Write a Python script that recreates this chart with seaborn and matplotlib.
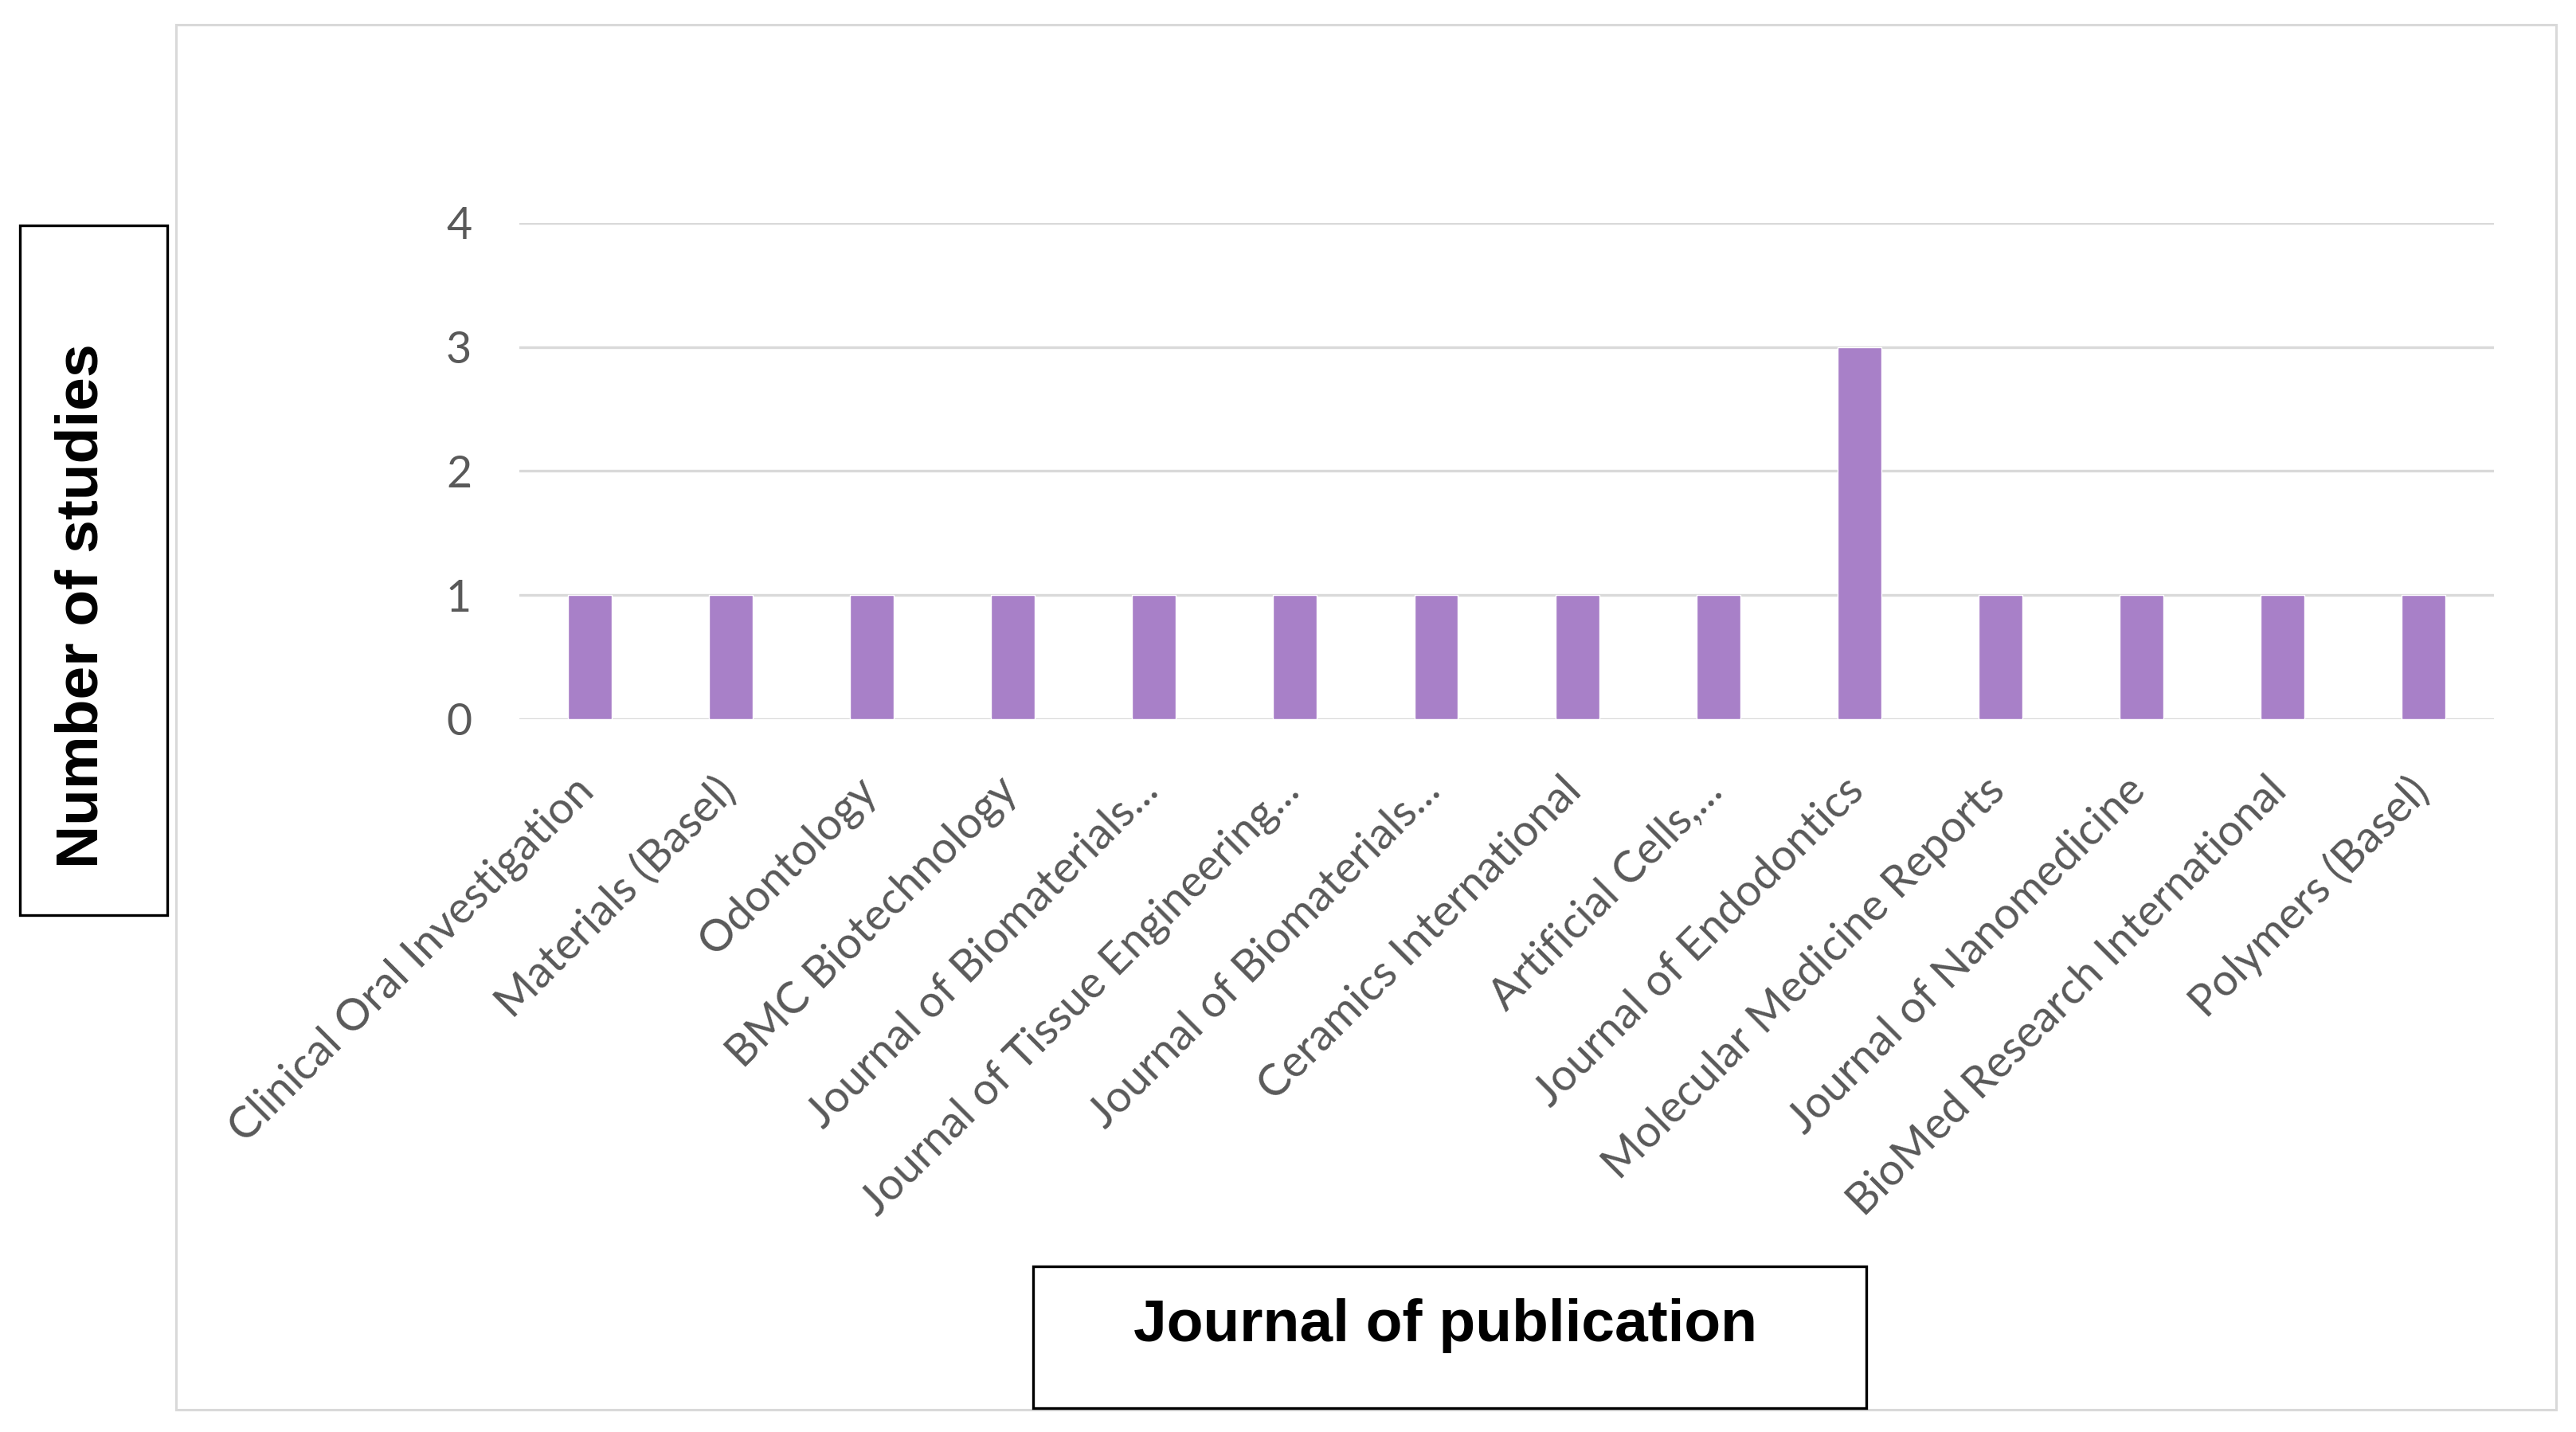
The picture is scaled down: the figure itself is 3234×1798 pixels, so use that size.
import seaborn as sns
import matplotlib.pyplot as plt
from matplotlib.patches import Rectangle
from matplotlib.transforms import ScaledTranslation
import pandas as pd

journals = ["Clinical Oral Investigation", "Materials (Basel)", "Odontology",
            "BMC Biotechnology", "Journal of Biomaterials...",
            "Journal of Tissue Engineering...", "Journal of Biomaterials...",
            "Ceramics International", "Artificial Cells,...",
            "Journal of Endodontics", "Molecular Medicine Reports",
            "Journal of Nanomedicine", "BioMed Research International",
            "Polymers (Basel)"]
studies = [1, 1, 1, 1, 1, 1, 1, 1, 1, 3, 1, 1, 1, 1]
yticks = [0, 1, 2, 3, 4]

# journal names repeat, so bars go on position index and names become tick labels
df = pd.DataFrame({"pos": range(len(journals)), "studies": studies})

sns.set_theme(style="white")
plt.rcParams['font.family'] = ['Lato', 'DejaVu Sans']

fig = plt.figure(figsize=(32.34, 17.98), dpi=100)
ax = fig.add_axes([0.2016, 0.4978, 0.7666, 0.3465])

sns.barplot(data=df, x="pos", y="studies", color="#A880C8", width=0.31,
            saturation=1, ax=ax, zorder=3)

ax.set_xlim(-0.5, len(journals) - 0.5)
ax.set_ylim(0, 4)
ax.set_yticks(yticks)
ax.grid(axis="y", color="#D9D9D9", linewidth=2.4, zorder=0)
ax.set_axisbelow(True)
for s in ax.spines.values():
    s.set_visible(False)
ax.tick_params(axis="both", length=0, labelsize=40, labelcolor="#595959")
ax.tick_params(axis="y", pad=43)
ax.tick_params(axis="x", pad=46)
ax.set_xticks(range(len(journals)))
ax.set_xticklabels(journals, rotation=45, ha="right", rotation_mode="anchor")
shift = ScaledTranslation(-15 / 72, 0, fig.dpi_scale_trans)
for lab in ax.get_xticklabels():
    lab.set_transform(lab.get_transform() + shift)
ax.set_xlabel("")
ax.set_ylabel("")

# chart area border
fig.patches.append(Rectangle((0.0683, 0.0156), 0.924, 0.9672, transform=fig.transFigure,
                             fill=False, edgecolor="#D9D9D9", linewidth=2.2, zorder=0))

# axis title boxes
fig.patches.append(Rectangle((0.0077, 0.361), 0.0572, 0.4816, transform=fig.transFigure,
                             fill=False, edgecolor="black", linewidth=2.4))
fig.text(0.0318, 0.5768, "Number of studies", rotation=90, ha="center", va="center",
         fontsize=54, fontweight="bold", color="black",
         family=["Liberation Sans", "DejaVu Sans"])

fig.patches.append(Rectangle((0.401, 0.0167), 0.3235, 0.099, transform=fig.transFigure,
                             fill=False, edgecolor="black", linewidth=2.4))
fig.text(0.5612, 0.0745, "Journal of publication", ha="center", va="center",
         fontsize=54, fontweight="bold", color="black",
         family=["Liberation Sans", "DejaVu Sans"])

fig.savefig("out.png", dpi=100, facecolor="white")
